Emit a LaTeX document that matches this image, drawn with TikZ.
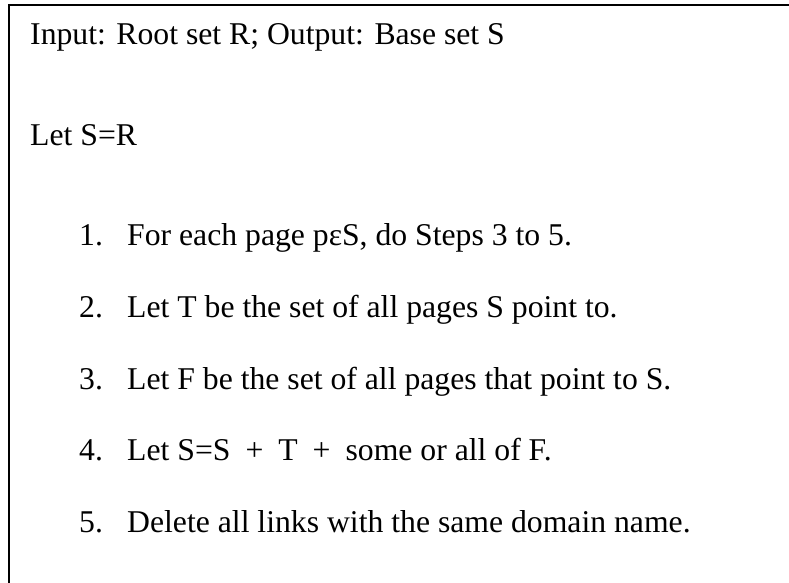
\documentclass[tikz,border=0pt]{standalone}
\usepackage{fontspec}
\setmainfont{Liberation Serif}
\begin{document}
\begin{tikzpicture}[x=1pt,y=-1pt,
  txt/.style={anchor=base west,inner sep=0pt,font=\fontsize{31.7}{38}\selectfont},
  frame/.style={draw=black,line width=2.2pt}]
\useasboundingbox (0,0) rectangle (789,583);
\clip (0,0) rectangle (789,583);
% open frame round the algorithm
\draw[frame] (9,600) -- (9,5) -- (800,5);
% header lines
\node[txt] (head) at (30,45) {Input: Root set R; Output: Base set S};
\node[txt] (init) at (30,145) {Let S=R};
% numbered steps
\newcommand\wsp{\hspace{15pt}}
\foreach \n/\y/\t in {
  1/245/{For each page pεS, do Steps 3 to 5.},
  2/317/{Let T be the set of all pages S point to.},
  3/389/{Let F be the set of all pages that point to S.},
  4/460/{Let S=S\wsp{}+\wsp{}T\wsp{}+\wsp{}some or all of F.},
  5/532/{Delete all links with the same domain name.}}{
  \node[txt] (num\n) at (79,\y) {\n.};
  \node[txt] (step\n) at (127,\y) {\t};
}
\end{tikzpicture}
\end{document}
